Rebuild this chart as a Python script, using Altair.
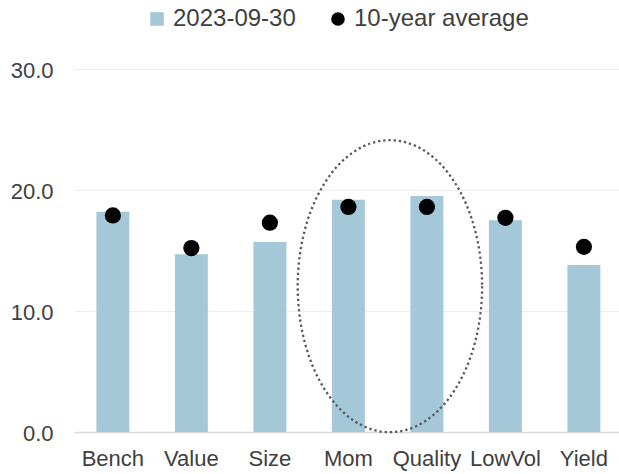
import altair as alt
import pandas as pd

# ---- data ----
categories = ["Bench", "Value", "Size", "Mom", "Quality", "LowVol", "Yield"]
current = [18.2, 14.7, 15.7, 19.2, 19.5, 17.5, 13.8]
avg10 = [17.9, 15.2, 17.3, 18.6, 18.6, 17.7, 15.3]
series_names = ["2023-09-30", "10-year average"]
y_ticks = [0, 10, 20, 30]
highlight = ["Mom"]            # ellipse drawn around Mom / Quality
ellipse_center_value = [12.05]

BAR_COLOR = "#A5C8D8"
TEXT_COLOR = "#404040"
FONT = "Liberation Sans"

df = pd.DataFrame({
    "factor": categories * 2,
    "value": current + avg10,
    "series": [series_names[0]] * len(categories) + [series_names[1]] * len(categories),
})
ell_df = pd.DataFrame({"factor": highlight, "value": ellipse_center_value})

x_enc = alt.X(
    "factor:N", sort=categories,
    scale=alt.Scale(paddingInner=0.58, paddingOuter=0.2675, align=0.557),
    axis=alt.Axis(title=None, labelAngle=0, labelFontSize=22, labelColor=TEXT_COLOR,
                  labelFont=FONT, labelPadding=16, ticks=False, tickSize=0,
                  domain=True, domainColor="#D9D9D9", domainWidth=1.5, grid=False),
)
y_enc = alt.Y(
    "value:Q",
    scale=alt.Scale(domain=[0, 30], nice=False),
    axis=alt.Axis(title=None, values=y_ticks, format=".1f", labelFontSize=22,
                  labelColor=TEXT_COLOR, labelFont=FONT, labelPadding=20,
                  labelOffset=1, ticks=False, tickSize=0, domain=True,
                  domainColor="white", domainWidth=3,
                  gridColor="#EDEDED", gridWidth=1),
)

legend = alt.Legend(
    title=None, orient="none", legendX=72, legendY=-62, direction="horizontal",
    labelFontSize=24, labelFont=FONT, labelColor=TEXT_COLOR, labelLimit=400,
    symbolSize=185, columnPadding=30, labelOffset=4, symbolStrokeWidth=0,
    symbolOpacity=1, padding=0,
)
color_enc = alt.Color("series:N", scale=alt.Scale(domain=series_names, range=[BAR_COLOR, "black"]),
                      legend=legend)
shape_enc = alt.Shape("series:N", scale=alt.Scale(domain=series_names, range=["square", "circle"]),
                      legend=legend)

bars = alt.Chart(df).transform_filter(
    alt.datum.series == series_names[0]
).mark_bar().encode(x=x_enc, y=y_enc, color=color_enc)

points = alt.Chart(df).transform_filter(
    alt.datum.series == series_names[1]
).mark_point(filled=True, size=263, opacity=1).encode(x=x_enc, y=y_enc, color=color_enc, shape=shape_enc)

ELLIPSE = ("M 0.6315 0 C 0.6315 0.5523 0.3488 1 0 1 C -0.3488 1 -0.6315 0.5523 -0.6315 0 "
           "C -0.6315 -0.5523 -0.3488 -1 0 -1 C 0.3488 -1 0.6315 -0.5523 0.6315 0 Z")
ellipse = alt.Chart(ell_df).mark_point(
    shape=ELLIPSE, size=292 * 292, filled=False, stroke="#595959", strokeWidth=2.3,
    strokeDash=[2.3, 2.9], xOffset=41.5, opacity=1,
).encode(x=x_enc, y=y_enc)

chart = alt.layer(bars, points, ellipse).properties(
    width=546, height=363,
    autosize=alt.AutoSizeParams(type="none"),
    padding={"left": 73, "top": 69, "right": 0, "bottom": 42},
).configure_view(strokeWidth=0).configure(background="white")

chart.save("out.html", embed_options={"renderer": "svg", "actions": False})
